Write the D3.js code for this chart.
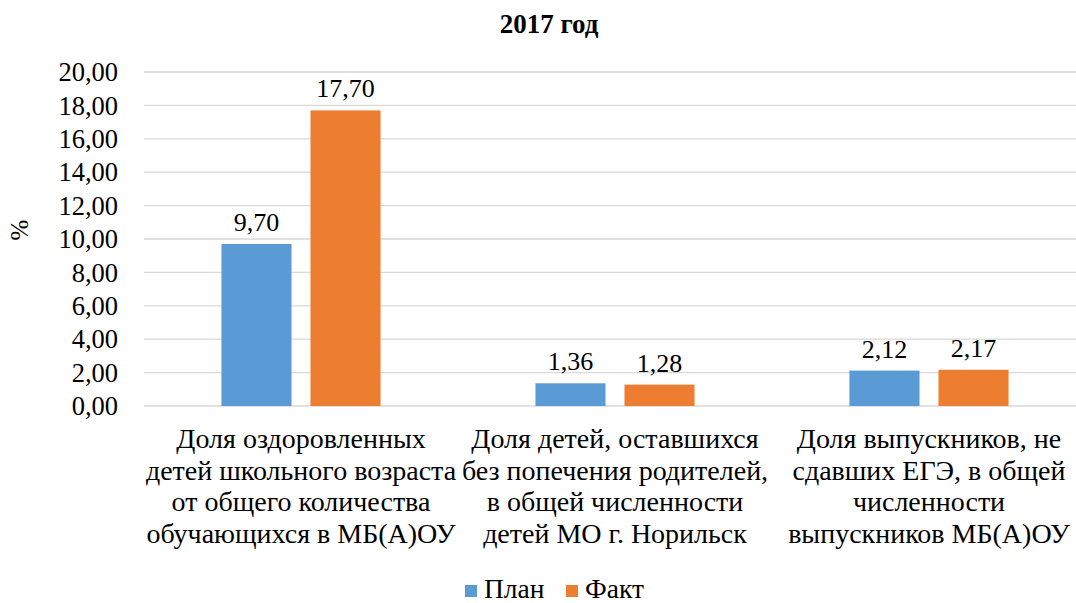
<!DOCTYPE html>
<html>
<head>
<meta charset="utf-8">
<script src="https://cdn.jsdelivr.net/npm/d3@7"></script>
<style>
  body { margin: 0; background: #fff; }
  svg { display: block; }
</style>
</head>
<body>
<svg></svg>
<script>
const categories = [
  ["Доля оздоровленных", "детей школьного возраста", "от общего количества", "обучающихся в МБ(А)ОУ"],
  ["Доля детей, оставшихся", "без попечения родителей,", "в общей численности", "детей МО г. Норильск"],
  ["Доля выпускников, не", "сдавших ЕГЭ, в общей", "численности", "выпускников МБ(А)ОУ"]
];
const seriesNames = ["План", "Факт"];
const planValues = [9.70, 1.36, 2.12];
const factValues = [17.70, 1.28, 2.17];
const yTicks = [0, 2, 4, 6, 8, 10, 12, 14, 16, 18, 20];
const colors = ["#5B9BD5", "#ED7D31"];

const width = 1076, height = 603;
const svg = d3.select("svg")
  .attr("width", width).attr("height", height)
  .attr("font-family", "'Liberation Serif', 'Times New Roman', serif")
  .attr("fill", "#000");

const fmt = v => v.toFixed(2).replace(".", ",");

const x = d3.scaleBand().domain(d3.range(categories.length)).range([144, 1086]);
const xInner = d3.scaleBand().domain(seriesNames).range([0, x.bandwidth()])
  .paddingInner(0.213).paddingOuter(0.87);
const y = d3.scaleLinear().domain([0, 20]).range([406, 72]);

// gridlines
svg.append("g")
  .selectAll("line")
  .data(yTicks)
  .join("line")
  .attr("x1", 144).attr("x2", 1086)
  .attr("y1", d => y(d)).attr("y2", d => y(d))
  .attr("stroke", "#d9d9d9").attr("stroke-width", 1.3);

// y axis labels
svg.append("g")
  .selectAll("text")
  .data(yTicks)
  .join("text")
  .attr("x", 118).attr("y", d => y(d))
  .attr("dy", "0.35em")
  .attr("text-anchor", "end")
  .attr("font-size", 26.5)
  .text(fmt);

svg.append("text")
  .attr("transform", "translate(28,230) rotate(-90)")
  .attr("text-anchor", "middle")
  .attr("font-size", 25)
  .text("%");

// title
svg.append("text")
  .attr("x", 549).attr("y", 33)
  .attr("text-anchor", "middle")
  .attr("font-size", 27).attr("font-weight", "bold")
  .text("2017 год");

const rows = categories.map((c, i) => ({ i, values: [planValues[i], factValues[i]] }));

const groups = svg.append("g")
  .selectAll("g")
  .data(rows)
  .join("g")
  .attr("transform", d => `translate(${x(d.i)},0)`);

groups.selectAll("rect")
  .data(d => d.values.map((v, k) => ({ name: seriesNames[k], v, k })))
  .join("rect")
  .attr("x", d => xInner(d.name))
  .attr("width", xInner.bandwidth())
  .attr("y", d => y(d.v))
  .attr("height", d => y(0) - y(d.v))
  .attr("fill", d => colors[d.k]);

groups.selectAll("text.val")
  .data(d => d.values.map((v, k) => ({ name: seriesNames[k], v, k })))
  .join("text")
  .attr("class", "val")
  .attr("x", d => xInner(d.name) + xInner.bandwidth() / 2)
  .attr("y", d => y(d.v) - 13)
  .attr("text-anchor", "middle")
  .attr("font-size", 26)
  .text(d => fmt(d.v));

// category labels
const catLabels = svg.append("g")
  .selectAll("g")
  .data(categories)
  .join("g")
  .attr("transform", (d, i) => `translate(${x(i) + x.bandwidth() / 2},0)`);

catLabels.selectAll("text")
  .data(d => d)
  .join("text")
  .attr("x", 0)
  .attr("y", (d, j) => 448 + j * 31.5)
  .attr("text-anchor", "middle")
  .attr("font-size", 28)
  .text(d => d);

// legend
const legend = svg.append("g");
const legendX = [465, 566];
seriesNames.forEach((name, k) => {
  legend.append("rect")
    .attr("x", legendX[k]).attr("y", 585)
    .attr("width", 12).attr("height", 12)
    .attr("fill", colors[k]);
  legend.append("text")
    .attr("x", legendX[k] + 19).attr("y", 598)
    .attr("font-size", 27.5)
    .text(name);
});
</script>
</body>
</html>
